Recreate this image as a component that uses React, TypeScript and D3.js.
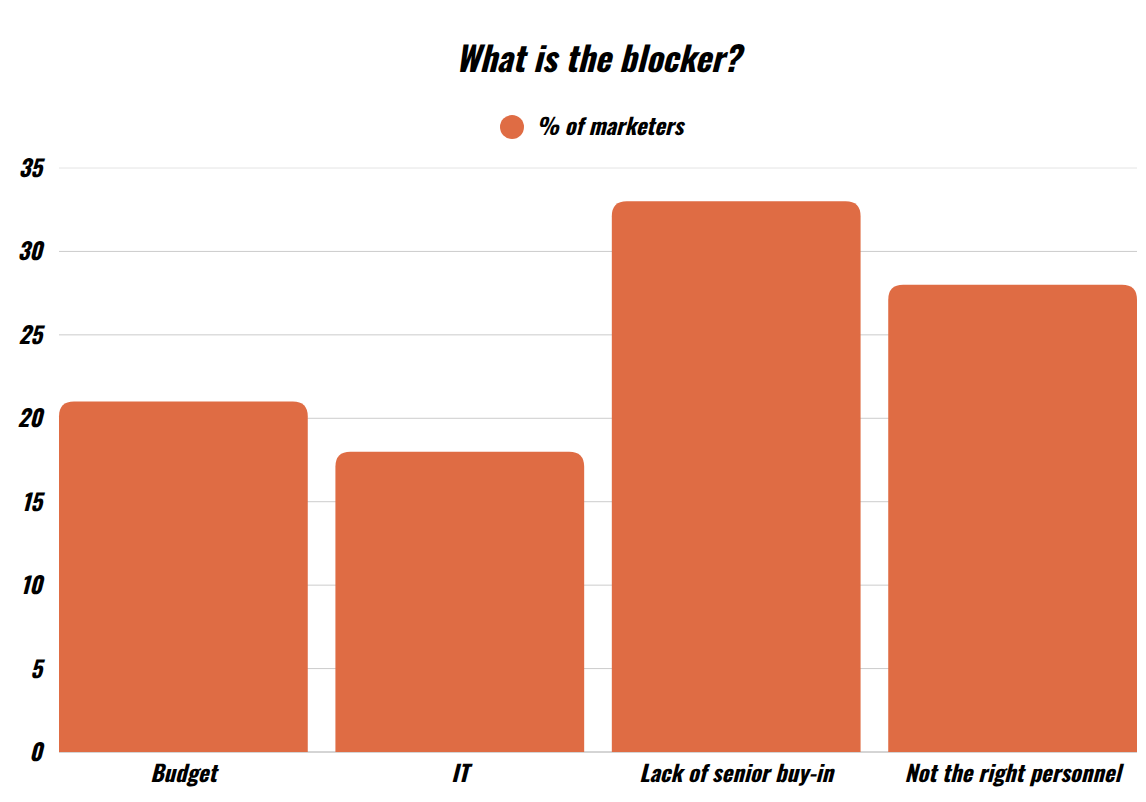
import React from "react";
import * as d3 from "d3";

const categories = ["Budget", "IT", "Lack of senior buy-in", "Not the right personnel"];
const values = [21, 18, 33, 28];
const yTicks = [0, 5, 10, 15, 20, 25, 30, 35];
const seriesName = "% of marketers";
const title = "What is the blocker?";

const W = 1146;
const H = 802;
const M = { left: 59, right: 9, top: 168, bottom: 50 };
const FONT = "'Oswald', 'DejaVu Sans Condensed', 'Roboto', sans-serif";
const COLOR = "#DF6C44";

function topRoundedRect(x: number, y: number, w: number, h: number, r: number) {
  const rr = Math.min(r, w / 2, h);
  return `M${x},${y + h}V${y + rr}Q${x},${y} ${x + rr},${y}H${x + w - rr}Q${x + w},${y} ${x + w},${y + rr}V${y + h}Z`;
}

function Label(props: {
  x: number;
  y: number;
  size: number;
  anchor: "start" | "middle" | "end";
  children: React.ReactNode;
}) {
  const { x, y, size, anchor, children } = props;
  return (
    <text
      x={x}
      y={y}
      textAnchor={anchor}
      fontSize={size}
      fontWeight="bold"
      fontStyle="italic"
      fill="#000"
    >
      {children}
    </text>
  );
}

export default function App() {
  const x = d3
    .scaleBand<string>()
    .domain(categories)
    .range([M.left, W - M.right])
    .paddingInner(0.1)
    .paddingOuter(0);
  const y = d3.scaleLinear().domain([0, 35]).range([H - M.bottom, M.top]);

  return (
    <svg
      width={W}
      height={H}
      style={{ position: "absolute", left: 0, top: 0, background: "#fff" }}
      fontFamily={FONT}
    >
      <Label x={598} y={72} size={34} anchor="middle">
        {title}
      </Label>
      <circle cx={512} cy={127} r={12} fill={COLOR} />
      <Label x={536} y={135} size={22.6} anchor="start">
        {seriesName}
      </Label>
      <line x1={M.left} x2={W - M.right} y1={y(0)} y2={y(0)} stroke="#aaaaaa" strokeWidth={1} />
      {yTicks.map((t) => (
        <g key={t}>
          {t > 0 && (
            <line
              x1={M.left}
              x2={W - M.right}
              y1={y(t)}
              y2={y(t)}
              stroke={t === 35 ? "#e4e4e4" : "#cccccc"}
              strokeWidth={1}
            />
          )}
          <Label x={42} y={y(t) + 9} size={23} anchor="end">
            {t}
          </Label>
        </g>
      ))}
      {categories.map((c, i) => (
        <path
          key={c}
          d={topRoundedRect(x(c)!, y(values[i]), x.bandwidth(), y(0) - y(values[i]), 15)}
          fill={COLOR}
        />
      ))}
      {categories.map((c) => (
        <Label key={c} x={x(c)! + x.bandwidth() / 2} y={782} size={22.7} anchor="middle">
          {c}
        </Label>
      ))}
    </svg>
  );
}
